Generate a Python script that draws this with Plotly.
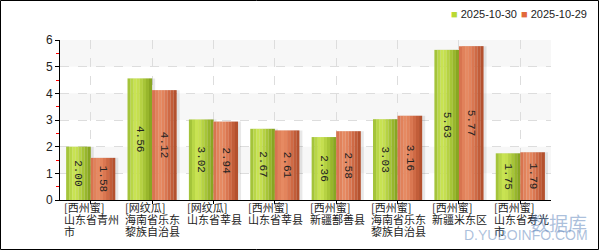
import plotly.graph_objects as go

categories = [
    "[西州蜜]\n山东省青州\n市",
    "[网纹瓜]\n海南省乐东\n黎族自治县",
    "[网纹瓜]\n山东省莘县",
    "[西州蜜]\n山东省莘县",
    "[西州蜜]\n新疆鄯善县",
    "[西州蜜]\n海南省乐东\n黎族自治县",
    "[西州蜜]\n新疆米东区",
    "[西州蜜]\n山东省寿光\n市",
]
series_names = ["2025-10-30", "2025-10-29"]
values_1030 = [2.00, 4.56, 3.02, 2.67, 2.36, 3.03, 5.63, 1.75]
values_1029 = [1.58, 4.12, 2.94, 2.61, 2.58, 3.16, 5.77, 1.79]
y_ticks = [0, 1, 2, 3, 4, 5, 6]

green_strips = ["#a4c43a", "#b9d747", "#c8e352", "#c5df4f", "#b6d243", "#a7c537", "#98b62c", "#88a622"]
orange_strips = ["#d87450", "#e1825b", "#e68a62", "#e3845c", "#da7751", "#cf6a45", "#c25d39", "#b4512e"]
legend_colors = ["#b9d934", "#e2683a"]

xs = list(range(len(categories)))
bar_w = 0.4
n_strips = len(green_strips)
sw = bar_w / n_strips

PW, PH = 491, 160  # plot area size in px

fig = go.Figure()

# light shadows behind bars
for vals, off in [(values_1030, -bar_w), (values_1029, 0.0)]:
    fig.add_trace(go.Bar(x=xs, y=vals, width=bar_w, offset=off + 0.05,
                         marker=dict(color="rgba(0,0,0,0.09)", line=dict(width=0)),
                         showlegend=False, hoverinfo="skip"))

for vals, cols, name, start in [(values_1030, green_strips, series_names[0], -bar_w),
                                (values_1029, orange_strips, series_names[1], 0.0)]:
    for k, c in enumerate(cols):
        fig.add_trace(go.Bar(x=xs, y=vals, width=sw * 1.02, offset=start + k * sw,
                             marker=dict(color=c, line=dict(width=0)),
                             name=name, showlegend=False, hoverinfo="skip"))
    fig.add_trace(go.Bar(x=xs, y=vals, width=bar_w, offset=start,
                         marker=dict(color="rgba(0,0,0,0)", line=dict(width=0)),
                         text=[f"{v:.2f}" for v in vals], textposition="inside",
                         insidetextanchor="middle", textangle=90,
                         textfont=dict(family="Liberation Mono", size=11, color="#222"),
                         showlegend=False, hoverinfo="skip"))

shapes = []
for lo in [1, 3, 5]:
    shapes.append(dict(type="rect", xref="paper", yref="y", x0=0, x1=1, y0=lo, y1=lo + 1,
                       fillcolor="#f7f7f7", line=dict(width=0), layer="below"))
shapes.append(dict(type="rect", xref="paper", yref="paper", x0=-59.5/PW, x1=(598.5-60)/PW,
                   y0=-(49.5)/PH, y1=1 + 39.5/PH, line=dict(color="black", width=1)))

annotations = []
for i, lab in enumerate(categories):
    for j, line in enumerate(lab.split("\n")):
        annotations.append(dict(x=i - 0.45, y=0, xref="x", yref="paper", text=line,
                                showarrow=False, xanchor="left", yanchor="top",
                                yshift=2 - 12 * j, borderpad=0,
                                font=dict(family="Noto Sans CJK SC", size=11, color="#222")))

# legend (manual, compact)
leg_x = [(450 - 60) / PW, (520 - 60) / PW]
for name, col, lx in zip(series_names, legend_colors, leg_x):
    annotations.append(dict(x=lx, y=1 + 26/PH, xref="paper", yref="paper",
                            text=f'<span style="color:{col}">■</span> {name}',
                            showarrow=False, xanchor="left", yanchor="middle", borderpad=0,
                            font=dict(family="Liberation Sans", size=11, color="#222")))

annotations.append(dict(x=(589 - 60) / PW, y=-22/PH, xref="paper", yref="paper", text="数据库",
                        showarrow=False, xanchor="right", yanchor="middle",
                        font=dict(family="Noto Sans CJK SC", size=19, color="rgba(90,130,185,0.5)")))
annotations.append(dict(x=(590 - 60) / PW, y=-35/PH, xref="paper", yref="paper", text="D.YUBOINFO.COM",
                        showarrow=False, xanchor="right", yanchor="middle",
                        font=dict(family="Liberation Sans", size=14, color="rgba(90,130,185,0.5)")))

fig.update_layout(
    width=600, height=250,
    margin=dict(l=60, r=49, t=40, b=50, autoexpand=False),
    paper_bgcolor="white", plot_bgcolor="white",
    barmode="overlay",
    showlegend=False,
    shapes=shapes, annotations=annotations,
    xaxis=dict(range=[-0.5, 7.5], tickvals=xs, showticklabels=False,
               showgrid=True, gridcolor="#dddddd", griddash="dash", gridwidth=1,
               showline=True, linecolor="black", linewidth=1,
               ticks="outside", ticklen=3, tickcolor="black", zeroline=False),
    yaxis=dict(range=[0, 6], tickvals=y_ticks, showgrid=True, gridcolor="#dddddd",
               griddash="dash", gridwidth=1,
               showline=True, linecolor="black", linewidth=1,
               ticks="outside", ticklen=4, tickcolor="black",
               tickfont=dict(family="Liberation Sans", size=12, color="#222"),
               minor=dict(tickvals=[0.5, 1.5, 2.5, 3.5, 4.5, 5.5], ticks="outside",
                          ticklen=3, tickcolor="red", showgrid=False),
               zeroline=False),
)

fig.write_html("out.html")
